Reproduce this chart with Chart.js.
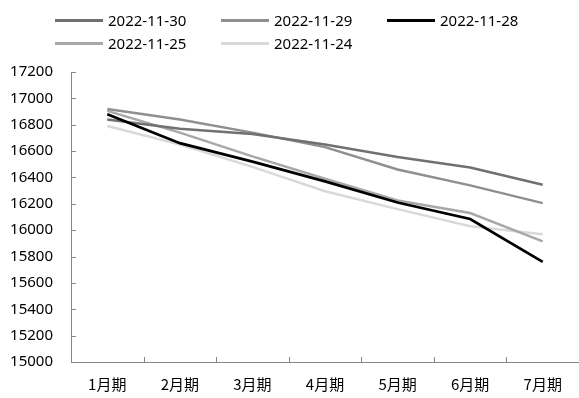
<!DOCTYPE html>
<html>
<head>
<meta charset="utf-8">
<script src="https://cdn.jsdelivr.net/npm/chart.js"></script>
<style>
  html, body { margin: 0; padding: 0; background: #fff; }
  #wrap { position: relative; width: 579px; height: 398px; }
  #legend { position: absolute; left: 0; top: 0; width: 579px; height: 60px;
            font-family: "Noto Sans", sans-serif; font-size: 15px; color: #000; }
  .item { position: absolute; display: flex; align-items: center; height: 20px; }
  .swatch { width: 48px; height: 3px; margin-right: 5px; }
</style>
</head>
<body>
<div id="wrap">
  <canvas id="chart" width="579" height="398"></canvas>
  <div id="legend"></div>
</div>
<script>
// data
const categories = ['1月期', '2月期', '3月期', '4月期', '5月期', '6月期', '7月期'];
const seriesNames = ['2022-11-30', '2022-11-29', '2022-11-28', '2022-11-25', '2022-11-24'];
const s1130 = [16840, 16770, 16730, 16650, 16555, 16475, 16345];
const s1129 = [16920, 16840, 16740, 16630, 16460, 16340, 16205];
const s1128 = [16880, 16660, 16520, 16370, 16210, 16085, 15760];
const s1125 = [16905, 16740, 16560, 16390, 16225, 16130, 15915];
const s1124 = [16790, 16650, 16480, 16295, 16160, 16030, 15970];
const colors = ['#707070', '#8f8f8f', '#000000', '#a8a8a8', '#d9d9d9'];
const widths = [2.5, 2.5, 2.75, 2.5, 2.5];

const allSeries = [s1130, s1129, s1128, s1125, s1124];

// legend laid out like the original (fixed columns)
const legendPos = [[55, 10], [221, 10], [387, 10], [55, 33], [221, 33]];
const legend = document.getElementById('legend');
seriesNames.forEach((name, i) => {
    const el = document.createElement('div');
    el.className = 'item';
    el.style.left = legendPos[i][0] + 'px';
    el.style.top = legendPos[i][1] + 'px';
    el.innerHTML = `<span class="swatch" style="background:${colors[i]}"></span><span>${name}</span>`;
    legend.appendChild(el);
});

// short inward tick marks like Excel
const innerTicks = {
    id: 'innerTicks',
    afterDraw(chart) {
        const ctx = chart.ctx;
        const x = chart.scales.x, y = chart.scales.y;
        ctx.save();
        ctx.strokeStyle = '#868686';
        ctx.lineWidth = 1;
        ctx.beginPath();
        y.ticks.forEach((t, i) => {
            const py = Math.round(y.getPixelForTick(i)) + 0.5;
            ctx.moveTo(x.left, py);
            ctx.lineTo(x.left + 5, py);
        });
        for (let i = 0; i <= categories.length; i++) {
            const px = Math.round(x.getPixelForValue(i - 0.5)) + 0.5;
            ctx.moveTo(px, y.bottom);
            ctx.lineTo(px, y.bottom - 5);
        }
        ctx.stroke();
        ctx.restore();
    }
};

new Chart(document.getElementById('chart'), {
    type: 'line',
    data: {
        labels: categories,
        datasets: allSeries.map((d, i) => ({
            label: seriesNames[i],
            data: d,
            borderColor: colors[i],
            backgroundColor: colors[i],
            borderWidth: widths[i],
            pointRadius: 0,
            tension: 0,
            order: i === 2 ? 0 : 1
        }))
    },
    options: {
        responsive: false,
        animation: false,
        layout: { padding: { top: 72, right: 0, left: 0, bottom: 0 } },
        plugins: { legend: { display: false }, tooltip: { enabled: false } },
        scales: {
            x: {
                offset: true,
                grid: { display: false, drawTicks: false },
                border: { display: true, color: '#868686', width: 1 },
                ticks: { color: '#000', padding: 13, maxRotation: 0,
                         font: { family: '"Noto Sans CJK SC", "Noto Sans"', size: 15 } },
                afterFit(s) { s.height = 36; }
            },
            y: {
                min: 15000,
                max: 17200,
                grid: { display: false, drawTicks: false },
                border: { display: true, color: '#868686', width: 1 },
                ticks: { stepSize: 200, color: '#000', padding: 18,
                         font: { family: '"Noto Sans"', size: 15 },
                         callback: v => String(v) },
                afterFit(s) { s.width = 71; }
            }
        }
    },
    plugins: [innerTicks]
});
</script>
</body>
</html>
